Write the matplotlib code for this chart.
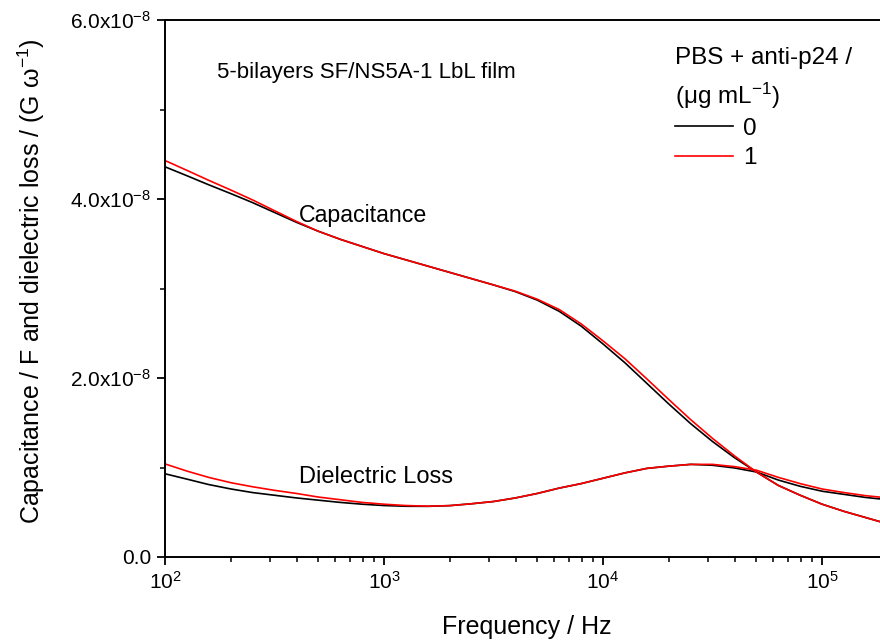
"""
Capacitance and dielectric loss vs frequency for the 5-bilayer SF/NS5A-1 LbL film.
"""

import matplotlib
matplotlib.use("Agg")
import matplotlib.pyplot as plt
from matplotlib.ticker import FixedLocator, FuncFormatter, LogLocator

plt.rcParams['font.family'] = ['Liberation Sans', 'DejaVu Sans']
plt.rcParams['mathtext.fontset'] = 'custom'
plt.rcParams['mathtext.rm'] = 'Liberation Sans'
plt.rcParams['mathtext.it'] = 'Liberation Sans:italic'
plt.rcParams['mathtext.default'] = 'regular'

# frequencies (Hz) at which the curves were read
freq = [100, 126, 158, 200, 251, 316, 398, 501, 631, 794,
        1000, 1259, 1585, 1995, 2512, 3162, 3981, 5012, 6310, 7943,
        10000, 12589, 15849, 19953, 25119, 31623, 39811, 50119, 63096, 79433,
        100000, 125893, 158489, 199526]

# capacitance, in units of 1e-8 F
cap_0 = [4.36, 4.26, 4.16, 4.06, 3.96, 3.85, 3.74, 3.64, 3.55, 3.47,
         3.39, 3.32, 3.25, 3.18, 3.11, 3.04, 2.965, 2.87, 2.745, 2.58,
         2.38, 2.17, 1.94, 1.71, 1.49, 1.29, 1.11, 0.95, 0.80, 0.69,
         0.59, 0.51, 0.44, 0.37]
cap_1 = [4.43, 4.32, 4.21, 4.10, 3.99, 3.87, 3.75, 3.64, 3.55, 3.47,
         3.39, 3.32, 3.25, 3.18, 3.11, 3.04, 2.97, 2.88, 2.765, 2.605,
         2.415, 2.215, 1.99, 1.76, 1.535, 1.325, 1.13, 0.95, 0.80, 0.69,
         0.59, 0.51, 0.44, 0.37]

# dielectric loss, in units of 1e-8
loss_0 = [0.93, 0.87, 0.81, 0.76, 0.72, 0.69, 0.66, 0.635, 0.61, 0.59,
          0.575, 0.567, 0.566, 0.574, 0.595, 0.62, 0.66, 0.71, 0.77, 0.82,
          0.88, 0.94, 0.99, 1.015, 1.035, 1.025, 0.995, 0.95, 0.86, 0.79,
          0.735, 0.70, 0.665, 0.64]
loss_1 = [1.04, 0.96, 0.89, 0.83, 0.785, 0.745, 0.71, 0.67, 0.64, 0.61,
          0.59, 0.575, 0.568, 0.574, 0.595, 0.62, 0.66, 0.71, 0.77, 0.82,
          0.88, 0.94, 0.99, 1.015, 1.035, 1.035, 1.01, 0.97, 0.89, 0.82,
          0.76, 0.72, 0.685, 0.66]

conc_labels = ['0', '1']
colors = ['black', 'red']

fig = plt.figure(figsize=(8.8, 6.42), dpi=100)
ax = fig.add_axes([0.1875, 0.1324, 0.8216, 0.8364])

for c, cap, loss, lab in zip(colors, [cap_0, cap_1], [loss_0, loss_1], conc_labels):
    ax.plot(freq, [v * 1e-8 for v in cap], color=c, lw=1.2, label=lab)
    ax.plot(freq, [v * 1e-8 for v in loss], color=c, lw=1.2)

ax.set_xscale('log')
ax.set_xlim(100, 2e5)
ax.set_ylim(0, 6e-8)

ax.yaxis.set_major_locator(FixedLocator([0, 2e-8, 4e-8, 6e-8]))
ax.yaxis.set_minor_locator(FixedLocator([1e-8, 3e-8, 5e-8]))


def yfmt(v, pos):
    if abs(v) < 1e-12:
        return '0.0'
    return r'%.1fx10$^{-8}$' % (v / 1e-8)


ax.yaxis.set_major_formatter(FuncFormatter(yfmt))
ax.xaxis.set_major_locator(LogLocator(base=10))
ax.xaxis.set_minor_locator(LogLocator(base=10, subs=range(2, 10)))

ax.tick_params(which='major', direction='out', length=6, width=1.3, labelsize=15, pad=4)
ax.tick_params(which='minor', direction='out', length=3.5, width=1.1)
ax.tick_params(top=False, right=False)
for s in ax.spines.values():
    s.set_linewidth(1.4)
ax.spines['right'].set_visible(False)

ax.set_xlabel('Frequency / Hz', fontsize=18)
ax.xaxis.set_label_coords(0.5, -0.108)
ax.set_ylabel(r'Capacitance / F and dielectric loss / (G ω$^{-1}$)', fontsize=18)
ax.yaxis.set_label_coords(-0.163, 0.514)

ax.text(1.72e2, 5.41e-8, '5-bilayers SF/NS5A-1 LbL film', fontsize=16,
        va='center', ha='left')
ax.text(4.1e2, 3.82e-8, 'Capacitance', fontsize=16.7, ha='left', va='center')
ax.text(4.1e2, 0.89e-8, 'Dielectric Loss', fontsize=17, ha='left', va='center')

leg = ax.legend(loc='upper left', bbox_to_anchor=(0.705, 0.95), frameon=False,
                title='PBS + anti-p24 /\n(μg mL$^{-1}$)', fontsize=17.5, title_fontsize=17.5,
                alignment='left', handlelength=2.4, handletextpad=0.4,
                borderpad=0, borderaxespad=0, labelspacing=0.3)
leg.get_title().set_linespacing(1.5)

fig.savefig('out.png', dpi=100)
